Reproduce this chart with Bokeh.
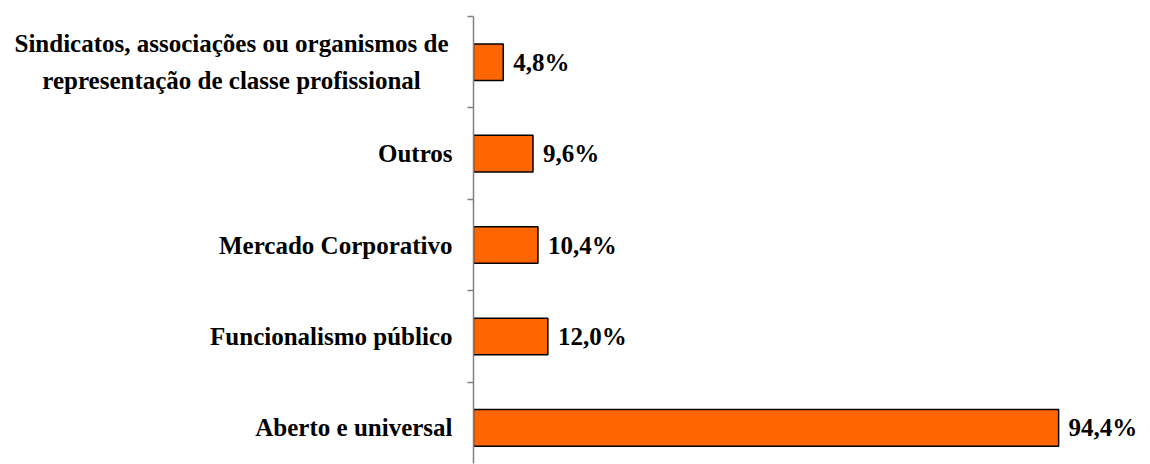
from bokeh.plotting import figure
from bokeh.layouts import row
from bokeh.models import ColumnDataSource, LabelSet, Range1d, LinearAxis, FixedTicker
from bokeh.embed import file_html
from bokeh.resources import INLINE

# Data (top to bottom)
categories = [
    "Sindicatos, associações ou organismos de\nrepresentação de classe profissional",
    "Outros",
    "Mercado Corporativo",
    "Funcionalismo público",
    "Aberto e universal",
]
values = [4.8, 9.6, 10.4, 12.0, 94.4]

n = len(categories)
ys = [n - 1 - i for i in range(n)]
value_labels = [f"{v:.1f}".replace(".", ",") + "%" for v in values]

FONT = "Liberation Serif"
FS = "25px"
H = 464
yr = Range1d(-0.39, n - 0.5)

# ---- left panel: category labels ----
LW = 453
pl = figure(width=LW, height=H, output_backend="svg", toolbar_location=None,
            x_range=Range1d(0, LW), y_range=yr,
            min_border_left=0, min_border_right=0, min_border_top=16, min_border_bottom=1,
            x_axis_location=None, y_axis_location=None)
pl.outline_line_color = None
pl.xgrid.visible = False
pl.ygrid.visible = False

single = dict(y=[], t=[])
multi = dict(y=[], t=[], yo=[])
for c, y in zip(categories, ys):
    lines = c.split("\n")
    if len(lines) == 1:
        single["y"].append(y); single["t"].append(c)
    else:
        k = len(lines)
        for j, ln in enumerate(lines):
            multi["y"].append(y); multi["t"].append(ln)
            multi["yo"].append(-((k - 1) / 2 - j) * 37)

txt = dict(text_font="Liberation Serif", text_font_style="bold",
           text_font_size=FS, text_color="black", text_baseline="middle")
pl.text(x=LW - 1, y="y", text="t", source=ColumnDataSource(single),
        text_align="right", **txt)
pl.text(x=231, y="y", text="t", y_offset="yo", source=ColumnDataSource(multi),
        text_align="center", **txt)

# ---- right panel: bars ----
pr = figure(width=1150 - LW, height=H, output_backend="svg", toolbar_location=None,
            x_range=Range1d(0, 108.9), y_range=yr,
            min_border_left=20, min_border_right=2, min_border_top=16, min_border_bottom=1,
            x_axis_location=None, y_axis_location=None)
pr.outline_line_color = None
pr.xgrid.visible = False
pr.ygrid.visible = False

src = ColumnDataSource(dict(y=ys, v=values, lab=value_labels))
pr.hbar(y="y", left=0, right="v", height=0.4, source=src,
        fill_color="#FF6600", line_color="black", line_width=1.5)

ax = LinearAxis(ticker=FixedTicker(ticks=[], minor_ticks=[k - 0.5 for k in range(n + 1)]))
ax.minor_tick_out = 6
ax.minor_tick_in = 0
ax.major_tick_out = 0
ax.major_tick_in = 0
ax.axis_line_color = "#808080"
ax.minor_tick_line_color = "#808080"
ax.axis_line_width = 1.5
ax.minor_tick_line_width = 1.5
pr.add_layout(ax, "left")

pr.add_layout(LabelSet(x="v", y="y", text="lab", source=src, x_offset=10,
                       text_align="left", text_baseline="middle",
                       text_font=FONT, text_font_style="bold", text_font_size=FS,
                       text_color="black"))

layout = row(pl, pr, spacing=0)
open("out.html", "w").write(file_html(layout, INLINE))
